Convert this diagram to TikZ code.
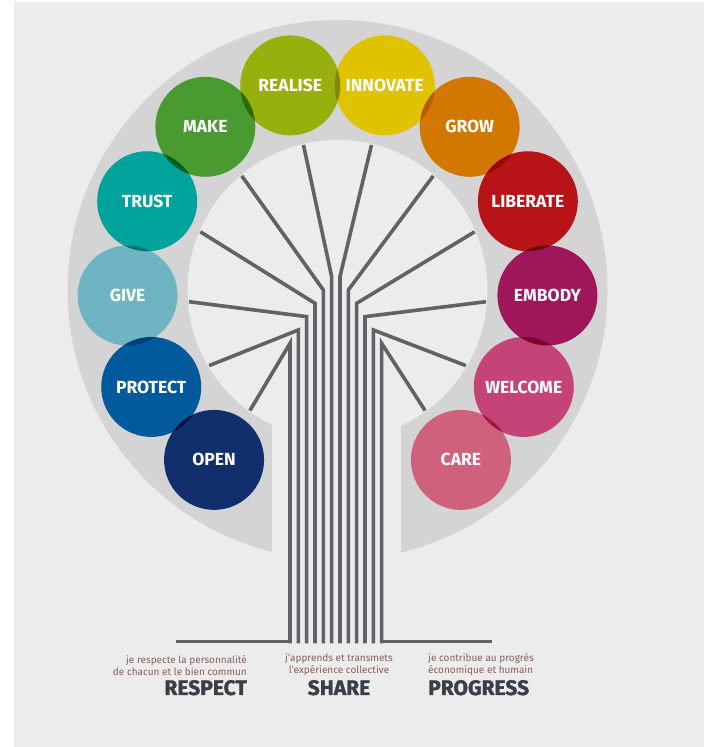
\documentclass[tikz,border=0pt]{standalone}
\usepackage{fontspec}
\setmainfont{Fira Sans}
\newfontfamily\headfont{Fira Sans}[BoldFeatures={FakeBold=1.5}]
\usetikzlibrary{calc}
\definecolor{paper}{HTML}{ECECEC}
\definecolor{ring}{HTML}{D4D4D4}
\definecolor{trunkgray}{HTML}{5F6367}
\definecolor{notecol}{HTML}{8A5E5B}
\definecolor{headcol}{HTML}{3B3E48}
\definecolor{realisecol}{HTML}{98B00E}
\definecolor{innovatecol}{HTML}{DFC300}
\definecolor{makecol}{HTML}{4A9A32}
\definecolor{growcol}{HTML}{D27700}
\definecolor{trustcol}{HTML}{00A39B}
\definecolor{liberatecol}{HTML}{B81418}
\definecolor{givecol}{HTML}{6FB4C3}
\definecolor{embodycol}{HTML}{A0165A}
\definecolor{protectcol}{HTML}{005A9C}
\definecolor{welcomecol}{HTML}{C54477}
\definecolor{opencol}{HTML}{122F6D}
\definecolor{carecol}{HTML}{D0617C}
\tikzstyle{leaf}=[circle,minimum size=100pt,inner sep=0pt]
\tikzstyle{leaflabel}=[text=white,font=\fontsize{17.5}{17.5}\selectfont\bfseries]
\tikzstyle{branch}=[draw=trunkgray,line width=3.6pt]
\tikzstyle{note}=[font=\fontsize{10}{12}\selectfont,text=notecol,inner sep=0pt]
\tikzstyle{motto}=[font=\headfont\bfseries\fontsize{21}{21}\selectfont,text=headcol,inner sep=0pt]
\begin{document}
\begin{tikzpicture}[x=1pt,y=1pt]
    % Page and margins
    \fill[white] (0,0) rectangle (704,747);
    \fill[paper] (14,0) rectangle (704,745);
    \useasboundingbox (0,0) rectangle (704,747);
    % Crown ring, open at the bottom
    \coordinate (c) at (337.5,457);
    \fill[ring] (c) circle (270);
    \fill[paper] (c) circle (150);
    \fill[paper] (272,150) rectangle (401,457);
    % Trunk and branches, one per leaf
    \foreach \i/\a in {0/234,1/210.5,2/184.5,3/157,4/130,5/103.2,
                       6/76.8,7/50,8/23,9/-4.5,10/-30.5,11/-54} {
        \pgfmathsetmacro\k{\i<6 ? \i : 11-\i}
        \coordinate (base\i) at ({290+8.33*\i},103.5);
        \coordinate (bend\i) at ({290+8.33*\i},{403.7+13.33*\k});
        \coordinate (tip\i) at ($(c)+(\a:149)$);
        \draw[branch] (base\i) -- (bend\i) -- (tip\i);
    }
    \coordinate (groundL) at (178,105.3);
    \coordinate (groundR) at (490,105.3);
    \draw[branch,line cap=rect] (groundL) -- (base0 |- groundL);
    \draw[branch,line cap=rect] (base11 |- groundR) -- (groundR);
    % Leaves, darker where they overlap
    \begin{scope}[transparency group]
    \begin{scope}[blend mode=multiply]
    \foreach \a/\name in {103/realise,77/innovate,129/make,51/grow,155/trust,25/liberate,
                          181.5/give,-1.5/embody,207.5/protect,-27.5/welcome,234/open,-54/care}
        \node[leaf,fill=\name col] (\name) at ($(c)+(\a:210)$) {};
    \end{scope}
    \end{scope}
    \foreach \name/\txt in {realise/REALISE,innovate/INNOVATE,make/MAKE,grow/GROW,
                            trust/TRUST,liberate/LIBERATE,give/GIVE,embody/EMBODY,
                            protect/PROTECT,welcome/WELCOME,open/OPEN,care/CARE}
        \node[leaflabel] (\name-txt) at (\name) {\txt};
    % Values under the tree
    \node[note,align=right,anchor=south east] (respect-note) at (247,71)
        {je respecte la personnalité\\de chacun et le bien commun};
    \node[motto,anchor=base east] (respect) at (247,52) {RESPECT};
    \node[note,align=center,anchor=south] (share-note) at (339,71)
        {j'apprends et transmets\\l'expérience collective};
    \node[motto,anchor=base] (share) at (339,52) {SHARE};
    \node[note,align=left,anchor=south west] (progress-note) at (428,71)
        {je contribue au progrès\\économique et humain};
    \node[motto,anchor=base west] (progress) at (428,52) {PROGRESS};
\end{tikzpicture}
\end{document}
